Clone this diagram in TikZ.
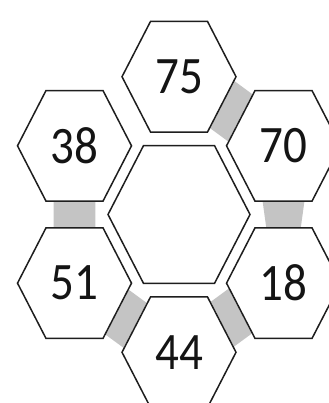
\documentclass[tikz,border=0pt]{standalone}
\usepackage{fontspec}
\setmainfont{Carlito}
\usetikzlibrary{shapes.geometric, calc, backgrounds}
\usepackage{xcolor}
\definecolor{cCell}{RGB}{255, 255, 255}
\definecolor{bCell}{RGB}{30, 30, 30}
\definecolor{cBridge}{RGB}{196, 196, 196}
\definecolor{tDark}{RGB}{20, 20, 20}

\begin{document}
\begin{tikzpicture}[
    x=1pt, y=1pt, yscale=1.12,
    hexcell/.style={
        regular polygon,
        regular polygon sides=6,
        minimum size=#1,
        inner sep=0pt,
        draw=bCell,
        line width=1.5pt,
        fill=cCell,
        text=tDark,
        transform shape,
        font=\fontsize{47}{50}\selectfont
    },
    hexcell/.default=114pt,
    bridge/.style={fill=cBridge, draw=none}
]

\useasboundingbox (0, 0) rectangle (328, 359.8);

% Central empty cell
\node[hexcell=142pt] (mid) at (179, 168.3) {};

% Ring of numbered cells
\node[hexcell] (top) at (179, 291.3) {75};
\node[hexcell] (nw) at (74.5, 229.6) {38};
\node[hexcell] (ne) at (283.5, 229.6) {70};
\node[hexcell] (sw) at (74.5, 107) {51};
\node[hexcell] (se) at (283.5, 107) {18};
\node[hexcell] (bot) at (179, 45.3) {44};

% Grey bridges between neighbouring cells
\begin{scope}[on background layer]
    \fill[bridge] ($(top.0)!0.08!(top.300)$) -- ($(top.0)!0.92!(top.300)$) -- ($(ne.120)!0.92!(ne.180)$) -- ($(ne.120)!0.08!(ne.180)$) -- cycle;
    \fill[bridge] ($(nw.240)!0.14!(nw.300)$) -- ($(nw.240)!0.86!(nw.300)$) -- ($(sw.120)!0.86!(sw.60)$) -- ($(sw.120)!0.14!(sw.60)$) -- cycle;
    \fill[bridge] ($(ne.240)!0.14!(ne.300)$) -- ($(ne.240)!0.86!(ne.300)$) -- ($(se.120)!0.8!(se.60)$) -- ($(se.120)!0.2!(se.60)$) -- cycle;
    \fill[bridge] ($(sw.0)!0.12!(sw.300)$) -- ($(sw.0)!0.92!(sw.300)$) -- ($(bot.120)!0.92!(bot.180)$) -- ($(bot.120)!0.12!(bot.180)$) -- cycle;
    \fill[bridge] ($(bot.60)!0.1!(bot.0)$) -- ($(bot.60)!0.9!(bot.0)$) -- ($(se.180)!0.9!(se.240)$) -- ($(se.180)!0.1!(se.240)$) -- cycle;
\end{scope}

\end{tikzpicture}
\end{document}
